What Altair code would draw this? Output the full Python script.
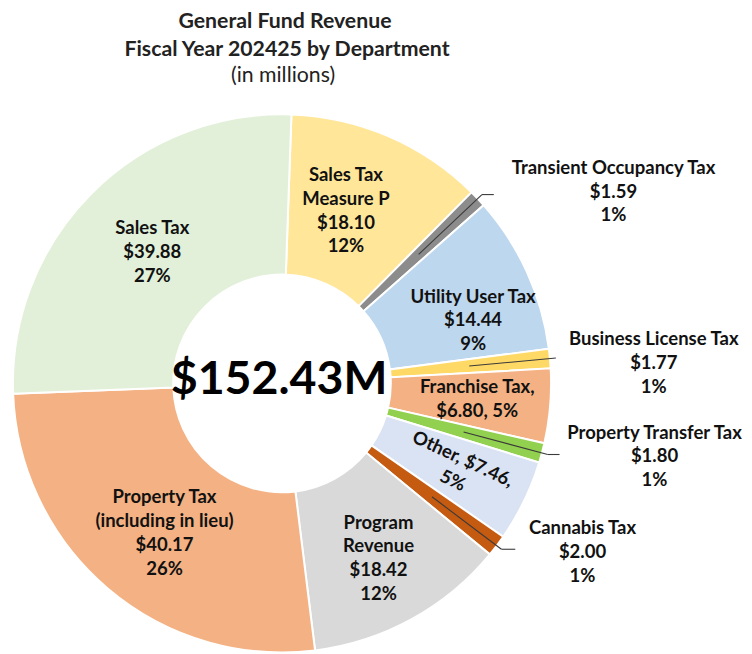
import altair as alt
import pandas as pd

# ---------------- data ----------------
categories = [
    "Sales Tax Measure P", "Transient Occupancy Tax", "Utility User Tax",
    "Business License Tax", "Franchise Tax", "Property Transfer Tax", "Other",
    "Cannabis Tax", "Program Revenue", "Property Tax (including in lieu)", "Sales Tax",
]
values = [18.10, 1.59, 14.44, 1.77, 6.80, 1.80, 7.46, 2.00, 18.42, 40.17, 39.88]
labels = [
    "Sales Tax\nMeasure P\n$18.10\n12%",
    "Transient Occupancy Tax\n$1.59\n1%",
    "Utility User Tax\n$14.44\n9%",
    "Business License Tax\n$1.77\n1%",
    "Franchise Tax,\n$6.80, 5%",
    "Property Transfer Tax\n$1.80\n1%",
    "Other, $7.46,\n5%",
    "Cannabis Tax\n$2.00\n1%",
    "Program\nRevenue\n$18.42\n12%",
    "Property Tax\n(including in lieu)\n$40.17\n26%",
    "Sales Tax\n$39.88\n27%",
]
colors = [
    "#FFE699", "#8C8C8C", "#BDD7EE", "#FFD966", "#F4B183", "#92D050",
    "#DAE3F3", "#C55A11", "#D9D9D9", "#F4B183", "#E2F0D9",
]
title_lines = ["General Fund Revenue", "Fiscal Year 202425 by Department"]
subtitle = "(in millions)"

df = pd.DataFrame({"idx": list(range(len(categories))), "category": categories,
                   "value": values, "label": labels})
total_value = round(sum(values), 2)
label_of = dict(zip(categories, labels))

# ---------------- layout / style ----------------
W, H = 744, 646
CX, CY = 277, 376
R_OUT, R_IN = 272, 110
R_LAB = 188
R_LEAD0, R_LEAD1 = 190, 278
ROT = 0.035
FONT = "Lato"
FS = 18.7
LH = 24
TXT = "#111111"

inside_nudge = {
    "Sales Tax": (2, 0),
    "Sales Tax Measure P": (-10, -2),
    "Utility User Tax": (22, 14),
    "Franchise Tax": (10, 0),
    "Program Revenue": (7, 12),
    "Property Tax (including in lieu)": (3, 8),
}
# (horizontal tail length, text dx from elbow, text dy from elbow)
outside_spec = {
    "Transient Occupancy Tax": (12, 133, -3),
    "Business License Tax": (0, 99, 5),
    "Property Transfer Tax": (12, 108, 2),
    "Cannabis Tax": (14, 82, 3),
}


def block_shift(cat):
    # vertical offset that centres a multi-line block on its anchor
    n = label_of[cat].count("\n") + 1
    return -(n - 1) * LH / 2


theta_scale = alt.Scale(domain=[0, total_value], range=[ROT, ROT + 6.283185307179586])

base = alt.Chart(df).transform_window(
    cum="sum(value)", sort=[alt.SortField("idx", order="ascending")], frame=[None, 0]
).transform_joinaggregate(
    total="sum(value)"
).transform_calculate(
    start="datum.cum - datum.value",
    ang=f"{ROT} + 2*PI*(datum.cum - datum.value/2)/datum.total",
).transform_calculate(
    lx=f"{CX} + {R_LAB}*sin(datum.ang)",
    ly=f"{CY} - {R_LAB}*cos(datum.ang)",
    sx=f"{CX} + {R_LEAD0}*sin(datum.ang)",
    sy=f"{CY} - {R_LEAD0}*cos(datum.ang)",
    ex=f"{CX} + {R_LEAD1}*sin(datum.ang)",
    ey=f"{CY} - {R_LEAD1}*cos(datum.ang)",
)

arcs = base.mark_arc(radius=R_OUT, radius2=R_IN, stroke="white", strokeWidth=2).encode(
    theta=alt.Theta("start:Q", scale=theta_scale, stack=False),
    theta2="cum:Q",
    color=alt.Color("category:N", scale=alt.Scale(domain=categories, range=colors), legend=None),
    x=alt.value(CX),
    y=alt.value(CY),
)

layers = [arcs]

px = lambda f: alt.X(f"{f}:Q", scale=None, axis=None)
py = lambda f: alt.Y(f"{f}:Q", scale=None, axis=None)

for cat, (dx, dy) in inside_nudge.items():
    layers.append(
        base.transform_filter(alt.datum.category == cat).mark_text(
            font=FONT, fontSize=FS, fontWeight="bold", color=TXT, lineBreak="\n",
            lineHeight=LH, align="center", baseline="middle", dx=dx,
            dy=dy + block_shift(cat),
        ).encode(x=px("lx"), y=py("ly"), text="label:N")
    )

# rotated "Other" label
layers.append(
    base.transform_filter(alt.datum.category == "Other").mark_text(
        font=FONT, fontSize=FS, fontWeight="bold", color=TXT, lineBreak="\n",
        lineHeight=LH, align="center", baseline="middle", angle=25, dx=10, dy=-11,
    ).encode(x=px("lx"), y=py("ly"), text="label:N")
)

for cat, (tail, tdx, tdy) in outside_spec.items():
    sub = base.transform_filter(alt.datum.category == cat).transform_calculate(
        tx=f"datum.ex + {tail}"
    )
    layers.append(
        sub.mark_rule(color="#3a3a3a", strokeWidth=1.1).encode(
            x=px("sx"), y=py("sy"), x2="ex:Q", y2="ey:Q"
        )
    )
    if tail > 0:
        layers.append(
            sub.mark_rule(color="#3a3a3a", strokeWidth=1.1).encode(
                x=px("ex"), y=py("ey"), x2="tx:Q", y2="ey:Q"
            )
        )
    layers.append(
        sub.mark_text(
            font=FONT, fontSize=FS, fontWeight="bold", color=TXT, lineBreak="\n",
            lineHeight=LH, align="center", baseline="middle", dx=tdx,
            dy=tdy + block_shift(cat),
        ).encode(x=px("ex"), y=py("ey"), text="label:N")
    )

# center total
center_df = pd.DataFrame({"t": [f"${total_value:.2f}M"]})
layers.append(
    alt.Chart(center_df).mark_text(
        font=FONT, fontSize=47, fontWeight="bold", color="#000000",
        align="center", baseline="middle",
    ).encode(x=alt.value(274), y=alt.value(CY - 3), text="t:N")
)

# titles
layers.append(
    alt.Chart(pd.DataFrame({"t": [title_lines[0]]})).mark_text(
        font=FONT, fontSize=21.5, fontWeight="bold", color="#222222",
        align="center", baseline="middle",
    ).encode(x=alt.value(280), y=alt.value(11), text="t:N")
)
layers.append(
    alt.Chart(pd.DataFrame({"t": [title_lines[1]]})).mark_text(
        font=FONT, fontSize=21.5, fontWeight="bold", color="#222222",
        align="center", baseline="middle",
    ).encode(x=alt.value(282), y=alt.value(39), text="t:N")
)
layers.append(
    alt.Chart(pd.DataFrame({"t": [subtitle]})).mark_text(
        font=FONT, fontSize=21.5, color="#222222",
        align="center", baseline="middle",
    ).encode(x=alt.value(278), y=alt.value(65), text="t:N")
)

chart = alt.layer(*layers).properties(
    width=W, height=H, autosize=alt.AutoSizeParams(type="none"), padding=0
).configure_view(stroke=None)

chart.save("out.html", embed_options={"renderer": "svg", "actions": False})
